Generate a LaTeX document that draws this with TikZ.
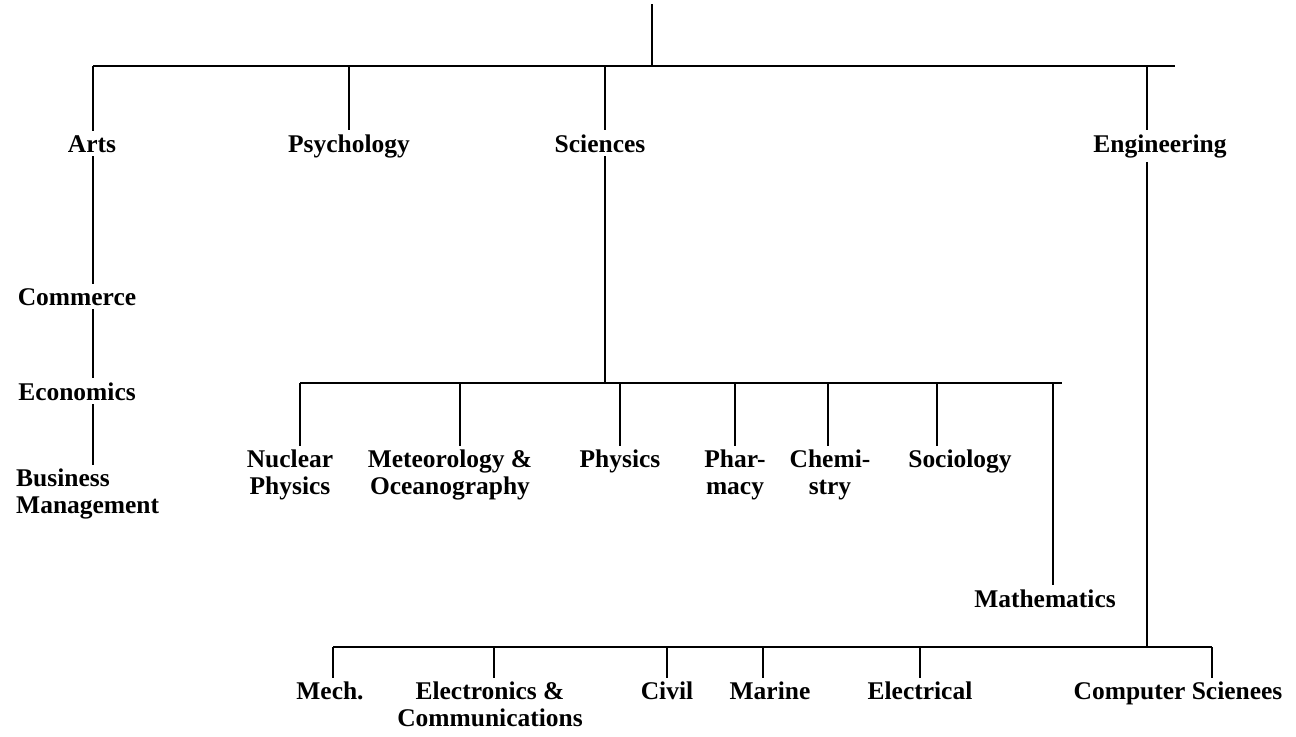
\documentclass[tikz,border=0pt]{standalone}
\usepackage{fontspec}
\setmainfont{Liberation Serif}
\begin{document}
\begin{tikzpicture}[x=0.02cm,y=-0.02cm,line width=0.8pt,
  every node/.style={font=\bfseries\fontsize{14.5}{15}\selectfont,inner sep=2pt},
  subj/.style={align=center,anchor=north}]
  \useasboundingbox (0,0) rectangle (1296,737);

  \coordinate (root) at (652,4);
  \coordinate (top) at (652,66);
  \coordinate (a1) at (93,66);
  \coordinate (e1) at (1147,66);
  \coordinate (tr) at (1175,66);

  \node [anchor=base] (arts) at (92,152) {Arts};
  \node [anchor=base] (psy) at (349,152) {Psychology};
  \node [anchor=base] (sci) at (600,152) {Sciences};
  \node [anchor=base] (eng) at (1160,152) {Engineering};

  \node [anchor=base] (comm) at (77,305) {Commerce};
  \node [anchor=base] (econ) at (77,400) {Economics};
  \node [anchor=west,align=left] (bm) at (12,494) {Business\\Management};

  \coordinate (s1) at (300,383);
  \coordinate (s2) at (1062,383);
  \node [subj] (nuc) at (290,446) {Nuclear\\Physics};
  \node [subj] (met) at (450,446) {Meteorology \&\\Oceanography};
  \node [subj] (phy) at (620,446) {Physics};
  \node [subj] (pha) at (735,446) {Phar-\\macy};
  \node [subj] (che) at (830,446) {Chemi-\\stry};
  \node [subj] (soc) at (960,446) {Sociology};
  \node [anchor=base] (math) at (1045,607) {Mathematics};

  \coordinate (g1) at (333,647);
  \coordinate (g2) at (1212,647);
  \node [subj] (mech) at (330,678) {Mech.};
  \node [subj] (elec) at (490,678) {Electronics \&\\Communications};
  \node [subj] (civ) at (667,678) {Civil};
  \node [subj] (mar) at (770,678) {Marine};
  \node [subj] (elt) at (920,678) {Electrical};
  \node [subj] (cs) at (1178,678) {Computer Scienees};

  \draw (root) -- (top);
  \draw (a1) -- (tr);
  \draw (a1) -- (a1 |- arts.north);
  \draw (psy |- top) -- (psy.north);
  \draw (605,66) -- (605,0 |- sci.north);
  \draw (e1) -- (e1 |- eng.north);

  \draw (a1 |- arts.south) -- (a1 |- comm.north);
  \draw (a1 |- comm.south) -- (a1 |- econ.north);
  \draw (a1 |- econ.south) -- (a1 |- bm.north);

  \draw (605,0 |- sci.south) -- (605,383);
  \draw (s1) -- (s2);
  \draw (s1) -- (s1 |- nuc.north);
  \draw (460,383) -- (460,446);
  \draw (phy |- s1) -- (phy);
  \draw (pha |- s1) -- (pha);
  \draw (828,383) -- (828,446);
  \draw (937,383) -- (937,446);
  \draw (1053,383) -- (1053,0 |- math.north);

  \draw (e1 |- eng.south) -- (e1 |- g1);
  \draw (g1) -- (g2);
  \draw (g1) -- (g1 |- mech.north);
  \draw (494,647) -- (494,0 |- elec.north);
  \draw (civ |- g1) -- (civ);
  \draw (763,647) -- (763,0 |- mar.north);
  \draw (elt |- g1) -- (elt);
  \draw (g2) -- (g2 |- cs.north);
\end{tikzpicture}
\end{document}
